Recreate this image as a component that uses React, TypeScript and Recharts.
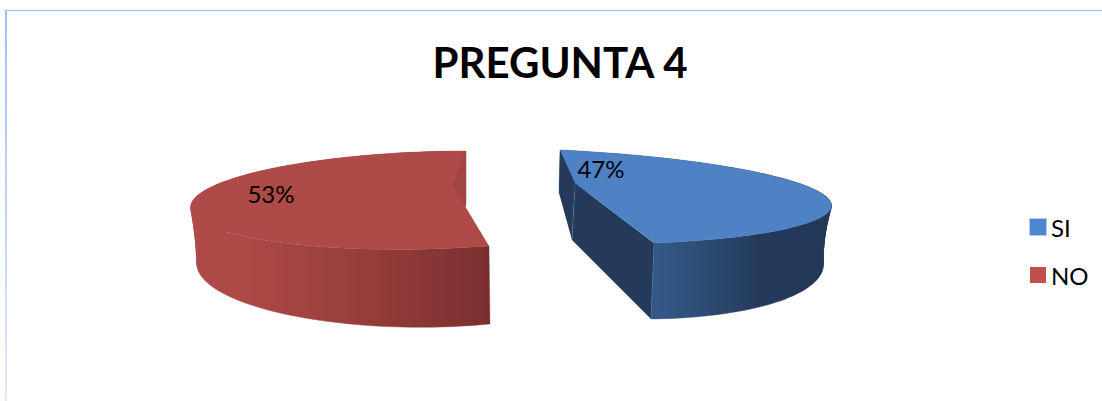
import React from 'react';
import { PieChart, Pie, Legend } from 'recharts';

const categories = ['SI', 'NO'];
const seriesValues = [47, 53];
const chartData = categories.map((name, i) => ({ name, value: seriesValues[i] }));

type P = [number, number];
type Anchor = { theta: number; at: P };

const GEOM: Record<string, any> = {
  SI: {
    top: '#4e82c4', wall: '#233a5a', stroke: '#5b8fd0', startWall: true,
    stops: [[0, '#34598a'], [0.35, '#2c4a70'], [0.6, '#243a5a'], [1, '#233858']],
    grad: [651, 830],
    label: [601, 168],
    centerTop: [575, 183],
    centerBottom: [572, 240],
    topAnchors: [
      { theta: 0, at: [560, 150] },
      { theta: 55, at: [735, 168] },
      { theta: 110, at: [831, 203] },
      { theta: 169.2, at: [654, 243] },
    ] as Anchor[],
    bottomAnchors: [
      { theta: 0, at: [559, 193] },
      { theta: 100, at: [823, 268] },
      { theta: 135, at: [767, 305] },
      { theta: 169.2, at: [651, 319] },
    ] as Anchor[],
  },
  NO: {
    top: '#ae4a47', wall: '#a24542', stroke: 'none', startWall: false,
    stops: [[0, '#ae4a47'], [0.15, '#ad4946'], [0.55, '#973e3c'], [1, '#7a2f2e']],
    grad: [200, 490],
    label: [271, 193],
    centerTop: [453, 186],
    centerBottom: [458, 238],
    topAnchors: [
      { theta: 360, at: [466, 151] },
      { theta: 300, at: [290, 165] },
      { theta: 250, at: [192, 202] },
      { theta: 169.2, at: [489, 246] },
    ] as Anchor[],
    bottomAnchors: [
      { theta: 360, at: [466, 205] },
      { theta: 250, at: [198, 270] },
      { theta: 215, at: [280, 313] },
      { theta: 169.2, at: [490, 324] },
    ] as Anchor[],
  },
};

const src = (theta: number): P => {
  const t = (theta * Math.PI) / 180;
  return [Math.sin(t), -Math.cos(t)];
};

function solveHomography(anchors: Anchor[]): number[] {
  const A: number[][] = [];
  for (const a of anchors) {
    const [x, y] = src(a.theta);
    const [u, v] = a.at;
    A.push([x, y, 1, 0, 0, 0, -u * x, -u * y, u]);
    A.push([0, 0, 0, x, y, 1, -v * x, -v * y, v]);
  }
  for (let c = 0; c < 8; c++) {
    let p = c;
    for (let r = c + 1; r < 8; r++) if (Math.abs(A[r][c]) > Math.abs(A[p][c])) p = r;
    [A[c], A[p]] = [A[p], A[c]];
    for (let r = 0; r < 8; r++) {
      if (r === c) continue;
      const f = A[r][c] / A[c][c];
      for (let k = c; k < 9; k++) A[r][k] -= f * A[c][k];
    }
  }
  return A.map((row, i) => row[8] / row[i]);
}

const apply = (h: number[], [x, y]: P): P => {
  const w = h[6] * x + h[7] * y + 1;
  return [(h[0] * x + h[1] * y + h[2]) / w, (h[3] * x + h[4] * y + h[5]) / w];
};

const toPath = (pts: P[]) =>
  pts.map((p, i) => `${i ? 'L' : 'M'}${p[0].toFixed(2)},${p[1].toFixed(2)}`).join(' ') + ' Z';

const area = (pts: P[]) =>
  pts.reduce((s, p, i) => {
    const q = pts[(i + 1) % pts.length];
    return s + p[0] * q[1] - q[0] * p[1];
  }, 0);

const Slice3D = (props: any) => {
  const name: string = props.name ?? props.payload?.name;
  const g = GEOM[name];
  const a0 = 90 - props.startAngle;
  const a1 = 90 - props.endAngle;
  const hTop = solveHomography(g.topAnchors);
  const hBot = solveHomography(g.bottomAnchors);
  const N = 120;
  const thetas = Array.from({ length: N + 1 }, (_, i) => a0 + ((a1 - a0) * i) / N);
  const topRim = thetas.map((t) => apply(hTop, src(t)));
  const botRim = thetas.map((t) => apply(hBot, src(t)));
  const cT: P = g.centerTop;
  const cB: P = g.centerBottom;
  const id = `wall-${name}`;
  const band = thetas
    .slice(0, N)
    .map((_, i) => {
      const q: P[] = [topRim[i], topRim[i + 1], botRim[i + 1], botRim[i]];
      return toPath(area(q) < 0 ? q.reverse() : q);
    })
    .join(' ');
  return (
    <g>
      <defs>
        <linearGradient id={id} gradientUnits="userSpaceOnUse" x1={g.grad[0]} x2={g.grad[1]} y1={0} y2={0}>
          {g.stops.map((s: any, i: number) => (
            <stop key={i} offset={s[0]} stopColor={s[1]} />
          ))}
        </linearGradient>
      </defs>
      <path d={band} fill={`url(#${id})`} stroke={`url(#${id})`} strokeWidth={0.4} fillRule="nonzero" />
      {g.startWall && <path d={toPath([topRim[0], cT, cB, botRim[0]])} fill={g.wall} />}
      <path d={toPath([topRim[N], cT, cB, botRim[N]])} fill={g.wall} />
      <path d={toPath([cT, ...topRim])} fill={g.top} />
      {g.stroke !== 'none' && (
        <path d={toPath([cT, cB, botRim[N], topRim[N]])} fill="none" stroke={g.stroke} strokeOpacity={0.35} strokeWidth={0.8} />
      )}
    </g>
  );
};

const SliceLabel = (props: any) => {
  const name: string = props.name ?? props.payload?.name;
  const [x, y] = GEOM[name].label;
  return (
    <text x={x} y={y} textAnchor="middle" dominantBaseline="central" fontFamily="Lato" fontSize={24} fill="#000">
      {`${Math.round(props.percent * 100)}%`}
    </text>
  );
};

const swatch: Record<string, any> = {
  SI: { background: '#4f86d0', boxShadow: '0 0 0 1px #b5cdeb' },
  NO: { background: '#c0504d' },
};

const LegendBox = (props: any) => (
  <div style={{ fontFamily: 'Lato', fontSize: 24, color: '#000' }}>
    {(props.payload || []).map((e: any) => (
      <div key={e.value} style={{ display: 'flex', alignItems: 'center', height: 48 }}>
        <span style={{ width: 16, height: 16, margin: '0 5px 0 1px', display: 'inline-block', ...swatch[e.value] }} />
        <span>{e.value}</span>
      </div>
    ))}
  </div>
);

export default function App() {
  return (
    <div style={{ position: 'absolute', left: 0, top: 0, width: 1102, height: 401, background: '#fff', overflow: 'hidden' }}>
      <div style={{ position: 'absolute', left: 6, top: 10, right: 0, height: 1, background: '#9fc0ee' }} />
      <div style={{ position: 'absolute', left: 5, top: 10, width: 1.5, bottom: 0, background: 'linear-gradient(#9fc0ee, #dfe9f8)' }} />
      <div
        style={{
          position: 'absolute', left: 18, right: 0, top: 34, textAlign: 'center',
          fontFamily: 'Lato', fontWeight: 700, fontSize: 42, lineHeight: '56px', color: '#000',
        }}
      >
        PREGUNTA 4
      </div>
      <PieChart width={1102} height={401} style={{ position: 'absolute', left: 0, top: 0 }}>
        <Pie
          data={chartData}
          dataKey="value"
          nameKey="name"
          cx={510}
          cy={220}
          outerRadius={150}
          startAngle={90}
          endAngle={-270}
          isAnimationActive={false}
          shape={Slice3D}
          label={SliceLabel}
          labelLine={false}
          stroke="none"
        />
        <Legend
          layout="vertical"
          align="right"
          verticalAlign="top"
          itemSorter={null}
          content={LegendBox}
          wrapperStyle={{ position: 'absolute', left: 1029, top: 203, width: 72 }}
        />
      </PieChart>
    </div>
  );
}
